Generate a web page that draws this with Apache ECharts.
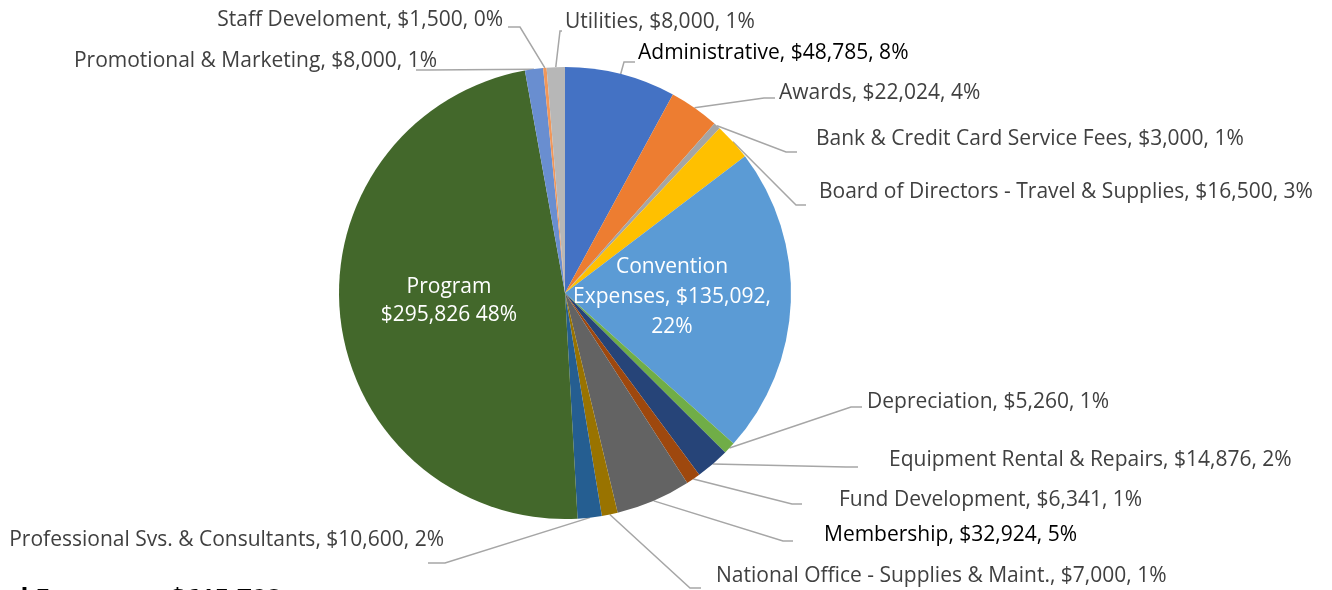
<!DOCTYPE html>
<html>
<head>
<meta charset="utf-8">
<script src="https://cdn.jsdelivr.net/npm/echarts@6/dist/echarts.min.js"></script>
<style>
  html, body { margin: 0; padding: 0; background: #fff; }
  #chart { width: 1332px; height: 590px; }
</style>
</head>
<body>
<div id="chart"></div>
<script>
// expense categories, clockwise from 12 o'clock
const categories = [
  'Administrative', 'Awards', 'Bank & Credit Card Service Fees',
  'Board of Directors - Travel & Supplies', 'Convention Expenses', 'Depreciation',
  'Equipment Rental & Repairs', 'Fund Development', 'Membership',
  'National Office - Supplies & Maint.', 'Professional Svs. & Consultants', 'Program',
  'Promotional & Marketing', 'Staff Develoment', 'Utilities'
]
const amounts = [
  48785, 22024, 3000, 16500, 135092, 5260, 14876, 6341,
  32924, 7000, 10600, 295826, 8000, 1500, 8000
]
// percentages as printed on the chart
const percents = [
  '8%', '4%', '1%', '3%', '22%', '1%', '2%', '1%',
  '5%', '1%', '2%', '48%', '1%', '0%', '1%'
]
const totalLabel = 'Total Expenses'
const totalValue = '$615,728'

const colors = [
  '#4472C4', '#ED7D31', '#A5A5A5', '#FFC000', '#5B9BD5', '#70AD47', '#264478', '#9E480E',
  '#636363', '#997300', '#255E91', '#43682B', '#698ED0', '#F1975A', '#B7B7B7'
]

// label placement: text anchor (x, y, align), leader line elbow (ex) and end (lx, ly)
const labelPlace = [
  { x: 638, y: 53, align: 'left', lx: 635, ly: 62, ex: 624 },
  { x: 779, y: 93, align: 'left', lx: 775, ly: 98, ex: 764 },
  { x: 816, y: 139, align: 'left', lx: 797, ly: 152, ex: 786 },
  { x: 819, y: 192, align: 'left', lx: 806, ly: 205, ex: 796 },
  { x: 672, y: 297, align: 'center' },
  { x: 867, y: 402, align: 'left', lx: 862, ly: 407, ex: 851 },
  { x: 889, y: 460, align: 'left', lx: 858, ly: 467, ex: 846 },
  { x: 839, y: 500, align: 'left', lx: 802, ly: 504, ex: 792 },
  { x: 824, y: 535, align: 'left', lx: 793, ly: 541, ex: 783 },
  { x: 716, y: 576, align: 'left', lx: 701, ly: 588, ex: 690 },
  { x: 444, y: 540, align: 'right', lx: 428, ly: 563, ex: 445 },
  { x: 449, y: 301, align: 'center' },
  { x: 437, y: 61, align: 'right', lx: 416, ly: 70, ex: 428 },
  { x: 503, y: 20, align: 'right', lx: 508, ly: 27, ex: 520 },
  { x: 565, y: 22, align: 'left', lx: 562, ly: 31, ex: 560 }
]

const FONT = '"Open Sans", sans-serif'
const fmt = (v) => '$' + v.toLocaleString('en-US')

const labelText = (i) => {
  if (i === 11) return categories[i] + '\n' + fmt(amounts[i]) + ' ' + percents[i]
  if (i === 4) return 'Convention\nExpenses, ' + fmt(amounts[i]) + ',\n' + percents[i]
  return categories[i] + ', ' + fmt(amounts[i]) + ', ' + percents[i]
}

const data = categories.map((name, i) => {
  const inside = i === 4 || i === 11
  const dark = i === 0 || i === 8
  return {
    name: name,
    value: amounts[i],
    itemStyle: { color: colors[i] },
    label: inside
      ? { position: 'inside', color: '#fff', lineHeight: i === 11 ? 28 : 30 }
      : { position: 'outside', color: dark ? '#000' : '#404040' },
    labelLine: { show: !inside }
  }
})

const chart = echarts.init(document.getElementById('chart'), null, { renderer: 'canvas' })

chart.setOption({
  backgroundColor: '#fff',
  animation: false,
  series: [
    {
      type: 'pie',
      center: [565, 293],
      radius: 226,
      startAngle: 90,
      clockwise: true,
      avoidLabelOverlap: false,
      itemStyle: { borderWidth: 0 },
      label: {
        fontFamily: FONT,
        fontSize: 21,
        formatter: (p) => labelText(p.dataIndex)
      },
      labelLine: {
        show: true,
        length: 10,
        length2: 10,
        lineStyle: { color: '#A6A6A6', width: 1.5 }
      },
      labelLayout: (params) => {
        const p = labelPlace[params.dataIndex]
        if (!p.lx) {
          return { x: p.x, y: p.y, align: p.align, verticalAlign: 'middle' }
        }
        const start = params.labelLinePoints ? params.labelLinePoints[0] : [p.ex, p.ly]
        return {
          x: p.x,
          y: p.y,
          align: p.align,
          verticalAlign: 'middle',
          labelLinePoints: [start, [p.ex, p.ly], [p.lx, p.ly]]
        }
      },
      emphasis: { disabled: true },
      data: data
    }
  ],
  graphic: [
    {
      type: 'text',
      x: 155,
      y: 588,
      style: {
        text: totalLabel,
        align: 'right',
        verticalAlign: 'top',
        font: 'bold 26px ' + FONT,
        fill: '#000'
      }
    },
    {
      type: 'text',
      x: 170,
      y: 588,
      style: {
        text: totalValue,
        align: 'left',
        verticalAlign: 'top',
        font: 'bold 26px ' + FONT,
        fill: '#000'
      }
    }
  ]
})
</script>
</body>
</html>
